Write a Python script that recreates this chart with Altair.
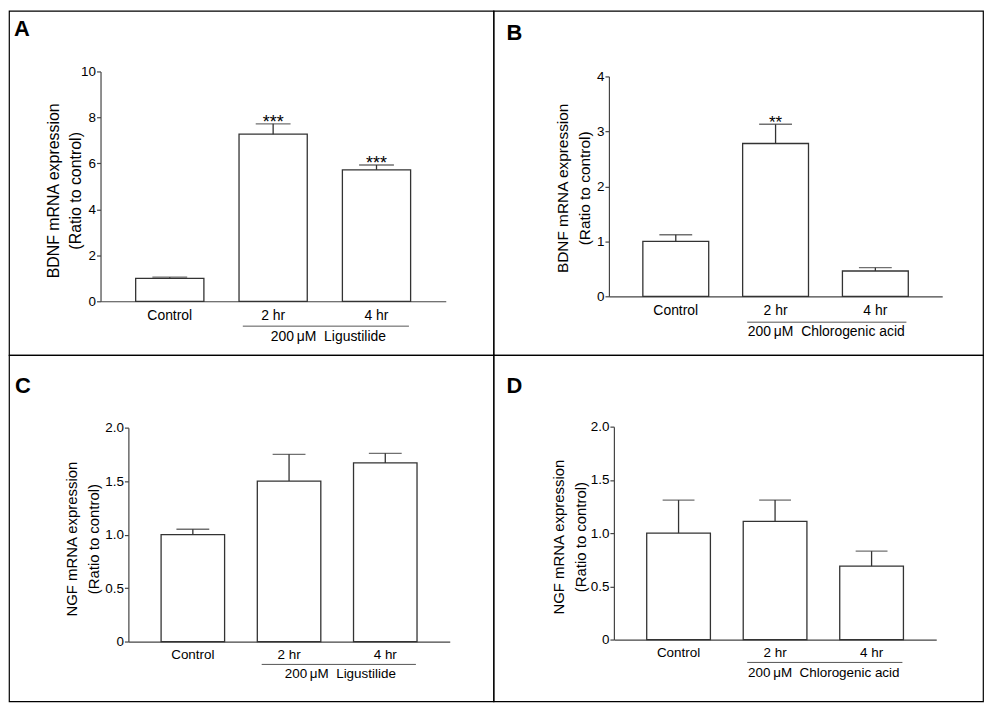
import altair as alt
import pandas as pd

# ---------------- data ----------------
categories = ["Control", "2 hr", "4 hr"]

a_mean = [1.00, 7.27, 5.72]
a_sem = [0.05, 0.45, 0.21]
a_stars = ["", "***", "***"]

b_mean = [1.00, 2.78, 0.46]
b_sem = [0.12, 0.35, 0.06]
b_stars = ["", "**", ""]

c_mean = [1.00, 1.50, 1.67]
c_sem = [0.05, 0.25, 0.09]
c_stars = ["", "", ""]

d_mean = [1.00, 1.11, 0.69]
d_sem = [0.31, 0.20, 0.14]
d_stars = ["", "", ""]

a_ticks = [0, 2, 4, 6, 8, 10]
b_ticks = [0, 1, 2, 3, 4]
cd_ticks = [0, 0.5, 1.0, 1.5, 2.0]

bdnf_title = ["BDNF mRNA expression", "(Ratio to control)"]
ngf_title = ["NGF mRNA expression", "(Ratio to control)"]
lig_group = "200\u2009\u03bcM\u00a0\u00a0Ligustilide"
cga_group = "200\u2009\u03bcM\u00a0\u00a0Chlorogenic acid"

FONT = "Liberation Sans"
LINE = "#333333"


def panel(letter, mean, sem, stars, yticks, ymax, ytitle, group, L, label_expr=None):
    df = pd.DataFrame({
        "cat": categories,
        "mean": mean,
        "upper": [m + s for m, s in zip(mean, sem)],
        "stars": stars,
    })
    one = pd.DataFrame({"k": [0]})
    xscale = alt.Scale(domain=categories, range=[L["ax_x"], L["ax_end"]],
                       paddingInner=0.34, paddingOuter=0.34)
    xaxis = alt.Axis(title=None, labelAngle=0, ticks=False, labelFontSize=L["lab"],
                     labelPadding=L["labpad"], labelColor="black", domainColor="#444444",
                     domainWidth=1.2, offset=-(L["h"] - L["y_bot"]))
    yscale = alt.Scale(domain=[0, ymax], range=[L["y_bot"], L["y_top"]], nice=False)
    yaxis_kw = dict(values=yticks, title=ytitle, grid=False, offset=-L["ax_x"], tickSize=4,
                    tickColor="#444444", tickWidth=1.2, domainColor="#444444", domainWidth=1.2,
                    labelPadding=1, labelFontSize=L["ylab"], labelColor="black",
                    titleX=L["tx"], titleY=L["ty"], titleAngle=270, titleAlign="center",
                    titleBaseline="middle", titleFontSize=L["yt"], titleFontWeight="normal",
                    titleLineHeight=22, titleColor="black")
    if label_expr:
        yaxis_kw["labelExpr"] = label_expr
    yaxis = alt.Axis(**yaxis_kw)

    x = alt.X("cat:N", sort=categories, scale=xscale, axis=xaxis)

    def Y(field):
        return alt.Y(field, scale=yscale, axis=yaxis)

    base = alt.Chart(df)
    bars = base.mark_bar(fill="white", stroke=LINE, strokeWidth=1.3).encode(x=x, y=Y("mean:Q"))
    err = base.mark_rule(color=LINE, strokeWidth=1.3).encode(x=x, y=Y("mean:Q"), y2="upper:Q")
    caps = base.mark_tick(orient="horizontal", size=L["cap"], thickness=1.3, color=LINE).encode(
        x=x, y=Y("upper:Q"))
    star = base.mark_text(fontSize=L["star"], baseline="alphabetic", dy=4, color="black").encode(
        x=x, y=Y("upper:Q"), text="stars:N")
    gline = alt.Chart(one).mark_rule(color="#555555", strokeWidth=1).encode(
        x=alt.value(L["gx1"]), x2=alt.value(L["gx2"]), y=alt.value(L["gy"]))
    gtext = alt.Chart(one).mark_text(fontSize=L["lab"], baseline="middle", align="center",
                                     color="black").encode(
        x=alt.value(L["gtx"]), y=alt.value(L["gty"]), text=alt.value(group))
    ltext = alt.Chart(one).mark_text(fontSize=22, fontWeight="bold", align="left",
                                     baseline="alphabetic", color="black").encode(
        x=alt.value(L["lx"]), y=alt.value(L["ly"]), text=alt.value(letter))
    return alt.layer(bars, err, caps, star, gline, gtext, ltext).properties(
        width=L["w"], height=L["h"])


LA = dict(w=487, h=346, ax_x=92, ax_end=439, y_top=61, y_bot=292, tx=-47, ty=180.5,
          lab=14, ylab=13.5, yt=16, labpad=7, cap=35, star=18,
          gx1=235, gx2=402, gy=317, gtx=321, gty=328, lx=5, ly=25)
LB = dict(w=492, h=346, ax_x=116, ax_end=451, y_top=66, y_bot=287, tx=-46.5, ty=178,
          lab=14, ylab=13.5, yt=15.5, labpad=7, cap=33, star=17,
          gx1=255, gx2=415, gy=313, gtx=334.5, gty=323, lx=13, ly=29)
LC = dict(w=487, h=348, ax_x=120, ax_end=443, y_top=73, y_bot=288, tx=-57.5, ty=184.5,
          lab=13.5, ylab=13.5, yt=15, labpad=6, cap=33, star=15,
          gx1=254, gx2=409, gy=311, gtx=333, gty=321, lx=6, ly=38)
LD = dict(w=492, h=348, ax_x=121, ax_end=445, y_top=72, y_bot=286, tx=-56, ty=182.5,
          lab=13.5, ylab=13.5, yt=15, labpad=6, cap=32, star=15,
          gx1=255, gx2=411, gy=309, gtx=332, gty=320, lx=13, ly=38)

zero_expr = "datum.value == 0 ? '0' : format(datum.value, '.1f')"

pA = panel("A", a_mean, a_sem, a_stars, a_ticks, 10, bdnf_title, lig_group, LA)
pB = panel("B", b_mean, b_sem, b_stars, b_ticks, 4, bdnf_title, cga_group, LB)
pC = panel("C", c_mean, c_sem, c_stars, cd_ticks, 2, ngf_title, lig_group, LC, zero_expr)
pD = panel("D", d_mean, d_sem, d_stars, cd_ticks, 2, ngf_title, cga_group, LD, zero_expr)

chart = alt.concat(pA, pB, pC, pD, columns=2, spacing=0, bounds="flush", align="each").properties(
    padding=0
).configure(font=FONT).configure_view(stroke="black", strokeWidth=1.2)

chart.save("out.html", embed_options={"renderer": "svg", "actions": False})
